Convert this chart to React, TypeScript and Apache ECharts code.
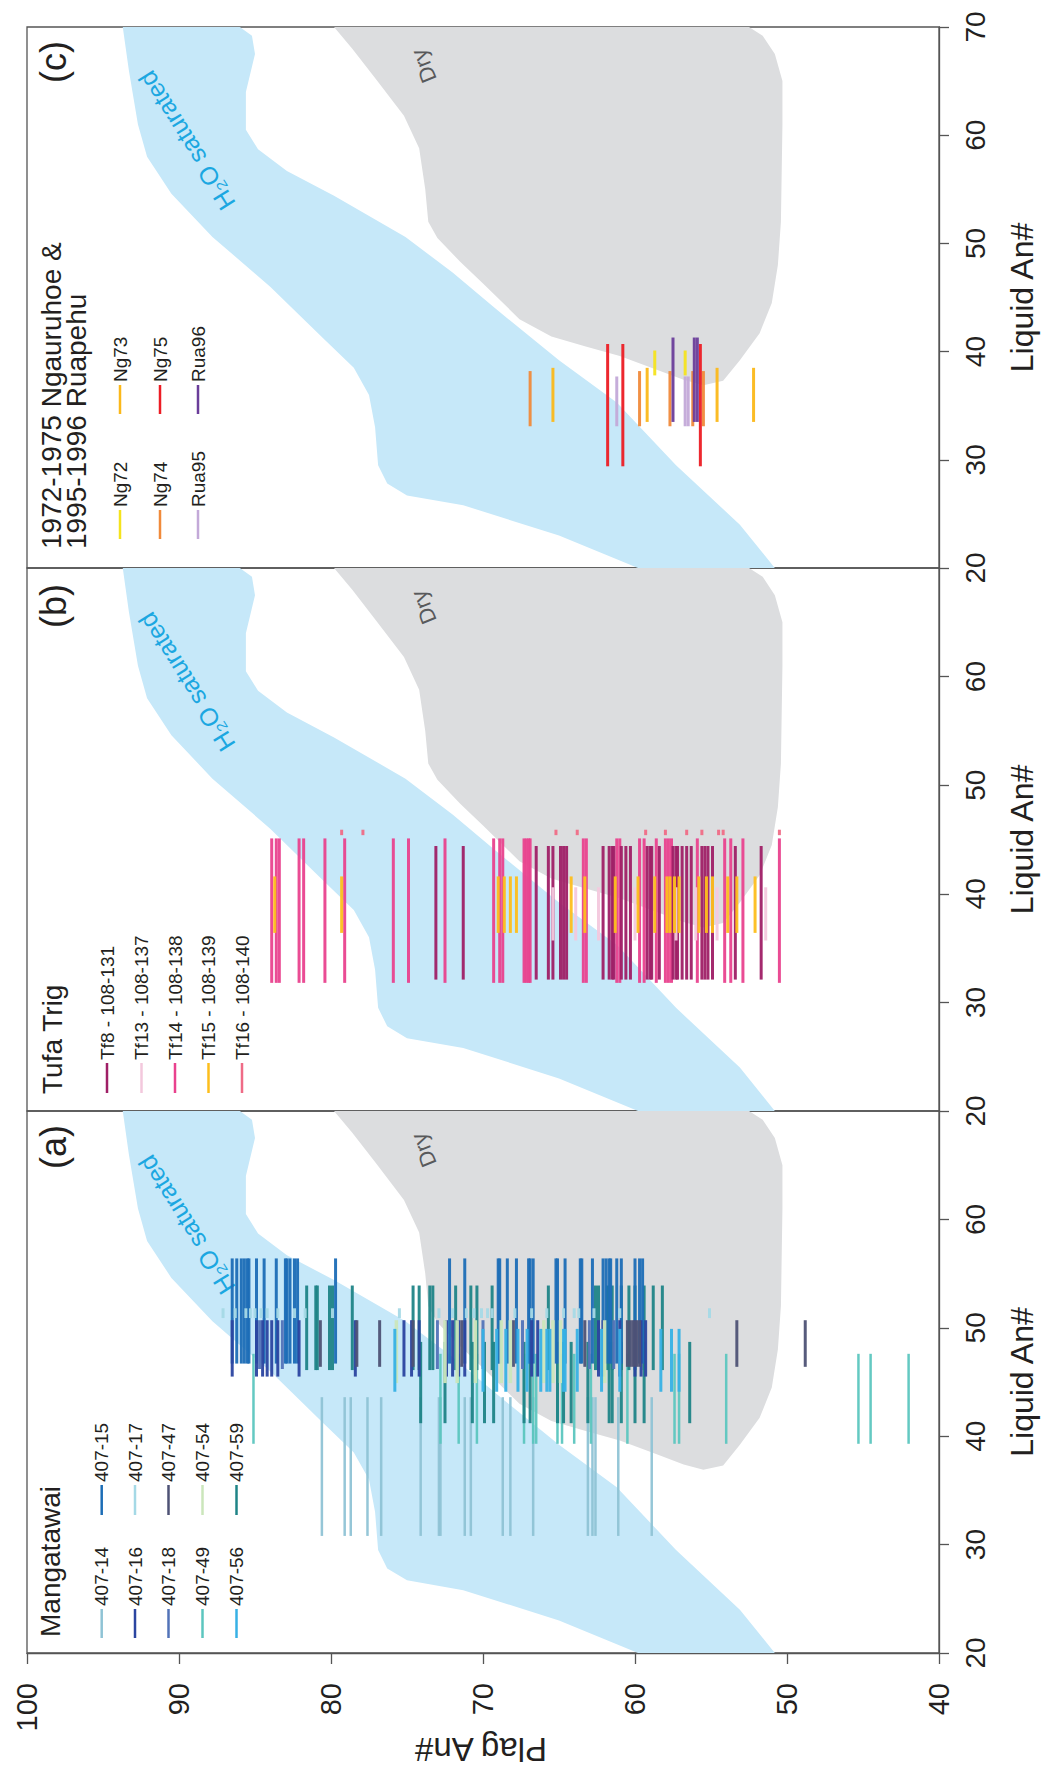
import React, { useEffect, useRef } from "react";
import * as echarts from "echarts";

const FONT = '"Liberation Sans", Arial, Helvetica, sans-serif';
const INK = "#231f20";

// ---------- axes ----------
const PLAG_MIN = 40;
const PLAG_MAX = 100;
const PLAG_STEP = 10;
const LIQ_MIN = 20;
const LIQ_MAX = 70;
const LIQ_STEP = 10;

// ---------- model fields, [Plag An#, Liquid An#] ----------
const h2oSaturatedBand: number[][] = [
  [93.7, 70], [93.3, 66], [92.7, 61], [92.1, 58], [90.5, 54.6], [87.8, 50.6], [84.0, 46.0],
  [80.5, 41.2], [78.5, 38.5], [77.5, 36], [77.1, 33], [76.9, 29.5], [76.3, 27.8], [75.0, 26.7],
  [71.3, 25.8], [65.0, 23.0], [59.8, 20],
  [50.8, 20], [53.1, 24], [57.3, 29.5], [61.2, 35.3], [65.0, 39.2], [69.2, 44.0], [72.0, 47.3],
  [75.1, 50.6], [79.8, 54.4], [82.9, 56.7], [84.8, 58.7], [85.6, 60.5], [85.6, 64.0], [85.0, 67.5],
  [85.2, 69.2], [86.0, 70],
];
const dryField: number[][] = [
  [79.8, 70], [78.6, 68], [77.0, 65.1], [75.2, 61.8], [74.2, 58.8], [73.8, 55], [73.6, 52],
  [73.0, 50.5], [71.5, 48.3], [70.0, 46.3], [67.6, 43], [65.5, 41.4], [63.3, 40.5], [61.0, 39.6],
  [58.7, 38.4], [56.8, 37.4], [55.5, 36.9], [54.2, 37.3], [53.1, 39.2], [51.8, 41.7], [51.0, 44.5],
  [50.6, 48], [50.4, 52], [50.3, 61], [50.3, 65], [50.8, 67.5], [51.6, 69.2], [52.5, 70],
];
const h2oLabelAt = [89.5, 59.5];
const dryLabelAt = [73.9, 66.4];

// ---------- (a) Mangatawai: Plag An# of each crystal; Liquid An# range per group ----------
const p407_14 = [80.6, 79.1, 78.7, 77.6, 76.7, 74.1, 72.9, 72.8, 71.2, 70.8, 68.7, 68.2, 66.7, 63.1, 62.8, 62.6, 61.1, 58.9];
const r407_14 = [30.8, 43.6];
const p407_15 = [86.5, 86.2, 85.9, 85.7, 85.5, 85.4, 84.9, 84.4, 83.6, 83.0, 82.9, 82.7, 82.4, 82.2, 79.7, 72.2, 71.2, 69.0, 68.9, 68.4, 67.8, 67.0, 66.9, 66.7, 65.2, 65.1, 64.6, 63.6, 63.5, 62.8, 62.1, 61.9, 61.7, 61.6, 61.2, 60.9, 60.0, 59.7, 59.5];
const r407_15 = [46.7, 56.4];
const p407_16 = [86.5, 84.9, 84.5, 84.2, 83.9, 83.5, 82.1, 78.4, 75.2, 74.7, 74.2, 72.4, 72.0, 71.6, 71.2, 66.8, 66.4, 62.4, 62.1, 61.0, 60.0, 59.6, 59.3];
const r407_16 = [45.5, 50.7];
const p407_17 = [87.1, 86.3, 85.6, 85.3, 85.0, 84.6, 84.2, 83.5, 82.4, 81.7, 79.9, 75.5, 72.9, 72.0, 71.1, 70.6, 70.1, 69.7, 69.4, 67.9, 66.8, 65.8, 64.7, 64.0, 63.7, 62.7, 61.0, 55.1];
const r407_17 = [50.9, 51.8];
const p407_18 = [84.7, 83.2, 73.0, 70.0, 67.4, 63.0, 61.4];
const r407_18 = [46.2, 50.7];
const p407_47 = [80.7, 78.3, 76.8, 74.6, 71.4, 68.0, 63.3, 60.5, 60.3, 60.1, 59.9, 59.7, 53.3, 48.8];
const r407_47 = [46.4, 50.7];
const p407_49 = [85.1, 72.8, 71.6, 70.4, 67.3, 66.7, 66.5, 65.1, 64.8, 64.0, 62.9, 60.5, 57.4, 57.1, 54.0, 45.3, 44.5, 42.0];
const r407_49 = [39.3, 47.6];
const p407_54 = [75.7, 72.5, 71.7, 70.5, 68.8, 68.2, 66.0, 65.4, 64.9, 62.0];
const r407_54 = [44.9, 50.7];
const p407_56 = [75.8, 70.0, 69.1, 68.5, 67.7, 67.1, 66.2, 65.8, 65.6, 64.7, 64.6, 63.8, 62.2, 61.0, 58.3, 57.6, 57.1];
const r407_56 = [44.1, 49.9];
const p407_59a = [81.6, 81.0, 80.9, 80.1, 79.9, 78.6, 74.6, 74.2, 73.5, 73.3, 71.8, 70.8, 70.4, 69.4, 65.7, 62.6, 62.4, 61.8, 61.5, 60.9, 60.4, 60.0, 59.4, 58.8, 58.2];
const r407_59a = [46.1, 53.9];
const p407_59b = [74.1, 72.5, 70.7, 69.9, 69.3, 67.3, 66.9, 65.1, 64.7, 64.2, 63.1, 61.7, 61.5, 60.9, 60.0, 59.4, 56.4];
const r407_59b = [41.2, 48.7];

// ---------- (b) Tufa Trig ----------
const pTf8 = [73.1, 71.3, 66.5, 65.7, 65.4, 64.9, 64.7, 64.5, 62.1, 61.7, 61.5, 61.4, 60.9, 60.6, 60.3, 59.2, 59.0, 58.9, 58.4, 57.5, 57.3, 57.2, 56.9, 56.6, 56.3, 55.6, 55.4, 55.2, 54.9, 53.4, 51.7];
const rTf8 = [32.1, 44.4];
const pTf13 = [65.4, 63.9, 62.4, 60.0, 57.3, 56.0, 54.6, 51.4];
const rTf13 = [35.7, 40.6];
const pTf14 = [83.9, 83.6, 83.4, 82.1, 81.8, 80.4, 79.1, 75.9, 74.9, 72.5, 69.3, 68.9, 68.7, 67.3, 67.15, 67.0, 66.9, 63.4, 63.2, 61.2, 61.0, 59.7, 59.4, 58.6, 58.0, 57.8, 57.6, 55.9, 54.1, 53.7, 52.9, 50.5];
const rTf14 = [31.8, 45.1];
const pTf15 = [83.7, 79.3, 69.0, 68.6, 68.2, 67.8, 64.2, 63.3, 61.3, 59.8, 58.7, 57.9, 57.7, 57.4, 57.1, 55.8, 55.3, 54.9, 53.9, 53.3, 52.1];
const rTf15 = [36.4, 41.6];
const pTf16 = [79.3, 77.9, 65.2, 63.8, 59.3, 58.0, 56.6, 55.6, 54.5, 54.2, 50.5];
const rTf16 = [45.4, 45.9];

// ---------- (c) 1972-1975 Ngauruhoe & 1995-1996 Ruapehu ----------
const pNg72 = [58.7, 56.7];
const rNg72 = [37.8, 40.1];
const pNg73 = [65.4, 59.2, 54.6, 52.2];
const rNg73 = [33.5, 38.5];
const pNg74 = [66.9, 59.7, 57.7, 56.2, 55.5];
const rNg74 = [33.1, 38.2];
const pNg75 = [61.8, 60.8, 55.7];
const rNg75 = [29.4, 40.7];
const pRua95 = [61.2, 56.7, 56.5];
const rRua95 = [33.1, 37.7];
const pRua96 = [57.5, 56.1, 55.9];
const rRua96 = [33.5, 41.3];

type Group = { plag: number[]; range: number[] };
type Sample = { name: string; color: string; groups: Group[]; width: number };

const panelA: Sample[] = [
  { name: "407-14", color: "#8fc3d5", width: 2.5, groups: [{ plag: p407_14, range: r407_14 }] },
  { name: "407-49", color: "#5cc6bf", width: 2.5, groups: [{ plag: p407_49, range: r407_49 }] },
  { name: "407-59", color: "#1f8487", width: 3, groups: [{ plag: p407_59a, range: r407_59a }, { plag: p407_59b, range: r407_59b }] },
  { name: "407-15", color: "#1c6db6", width: 3, groups: [{ plag: p407_15, range: r407_15 }] },
  { name: "407-16", color: "#2b45a0", width: 3, groups: [{ plag: p407_16, range: r407_16 }] },
  { name: "407-18", color: "#5273b8", width: 3, groups: [{ plag: p407_18, range: r407_18 }] },
  { name: "407-47", color: "#4e5275", width: 3, groups: [{ plag: p407_47, range: r407_47 }] },
  { name: "407-54", color: "#cbe6bb", width: 3.5, groups: [{ plag: p407_54, range: r407_54 }] },
  { name: "407-56", color: "#37b1e5", width: 3, groups: [{ plag: p407_56, range: r407_56 }] },
  { name: "407-17", color: "#a5d9e6", width: 3, groups: [{ plag: p407_17, range: r407_17 }] },
];
const panelB: Sample[] = [
  { name: "Tf14 - 108-138", color: "#e9428e", width: 3, groups: [{ plag: pTf14, range: rTf14 }] },
  { name: "Tf8 - 108-131", color: "#9f1f66", width: 3, groups: [{ plag: pTf8, range: rTf8 }] },
  { name: "Tf13 - 108-137", color: "#f3c8dd", width: 3, groups: [{ plag: pTf13, range: rTf13 }] },
  { name: "Tf15 - 108-139", color: "#fdbe1c", width: 3, groups: [{ plag: pTf15, range: rTf15 }] },
  { name: "Tf16 - 108-140", color: "#ef6b86", width: 3, groups: [{ plag: pTf16, range: rTf16 }] },
];
const panelC: Sample[] = [
  { name: "Ng74", color: "#f08a3b", width: 3, groups: [{ plag: pNg74, range: rNg74 }] },
  { name: "Ng73", color: "#fbb81a", width: 3, groups: [{ plag: pNg73, range: rNg73 }] },
  { name: "Ng72", color: "#f4e31d", width: 3, groups: [{ plag: pNg72, range: rNg72 }] },
  { name: "Rua95", color: "#c3a9d8", width: 3, groups: [{ plag: pRua95, range: rRua95 }] },
  { name: "Ng75", color: "#ec1c24", width: 3, groups: [{ plag: pNg75, range: rNg75 }] },
  { name: "Rua96", color: "#6a3d9a", width: 3, groups: [{ plag: pRua96, range: rRua96 }] },
];

// ---------- layout (pixels) ----------
const GRID_LEFT = 27;
const GRID_WIDTH = 912;
const panels = [
  { key: "c", top: 27, height: 541, samples: panelC },
  { key: "b", top: 568, height: 543, samples: panelB },
  { key: "a", top: 1111, height: 542, samples: panelA },
];

const legendLayout = [
  // panel c
  { name: "Ng72", color: "#f4e31d", x: 120, y1: 510, y2: 539 },
  { name: "Ng74", color: "#f08a3b", x: 160, y1: 510, y2: 539 },
  { name: "Rua95", color: "#c3a9d8", x: 198, y1: 510, y2: 539 },
  { name: "Ng73", color: "#fbb81a", x: 120, y1: 385, y2: 414 },
  { name: "Ng75", color: "#ec1c24", x: 160, y1: 385, y2: 414 },
  { name: "Rua96", color: "#6a3d9a", x: 198, y1: 385, y2: 414 },
  // panel b
  { name: "Tf8 - 108-131", color: "#9f1f66", x: 107, y1: 1063, y2: 1093 },
  { name: "Tf13 - 108-137", color: "#f3c8dd", x: 141.5, y1: 1063, y2: 1093 },
  { name: "Tf14 - 108-138", color: "#e9428e", x: 175, y1: 1063, y2: 1093 },
  { name: "Tf15 - 108-139", color: "#fdbe1c", x: 208.5, y1: 1063, y2: 1093 },
  { name: "Tf16 - 108-140", color: "#ef6b86", x: 242, y1: 1063, y2: 1093 },
  // panel a
  { name: "407-14", color: "#8fc3d5", x: 101.7, y1: 1609, y2: 1638 },
  { name: "407-16", color: "#2b45a0", x: 135, y1: 1609, y2: 1638 },
  { name: "407-18", color: "#5273b8", x: 168.5, y1: 1609, y2: 1638 },
  { name: "407-49", color: "#5cc6bf", x: 202.5, y1: 1609, y2: 1638 },
  { name: "407-56", color: "#37b1e5", x: 236.5, y1: 1609, y2: 1638 },
  { name: "407-15", color: "#1c6db6", x: 101.7, y1: 1485, y2: 1515 },
  { name: "407-17", color: "#a5d9e6", x: 135, y1: 1485, y2: 1515 },
  { name: "407-47", color: "#4e5275", x: 168.5, y1: 1485, y2: 1515 },
  { name: "407-54", color: "#cbe6bb", x: 202.5, y1: 1485, y2: 1515 },
  { name: "407-59", color: "#1f8487", x: 236.5, y1: 1485, y2: 1515 },
];

const titleLayout = [
  { text: "(c)", x: 53, y: 62, size: 36, align: "center" },
  { text: "(b)", x: 53, y: 606, size: 36, align: "center" },
  { text: "(a)", x: 53, y: 1147, size: 36, align: "center" },
  { text: "1972-1975 Ngauruhoe &", x: 51, y: 549, size: 28, align: "left" },
  { text: "1995-1996 Ruapehu", x: 76, y: 549, size: 28, align: "left" },
  { text: "Tufa Trig", x: 52, y: 1094, size: 28, align: "left" },
  { text: "Mangatawai", x: 50, y: 1637, size: 28, align: "left" },
];

function textEl(text: string, x: number, y: number, size: number, rotation: number, align: string, fill = INK) {
  return {
    type: "text",
    x,
    y,
    rotation,
    silent: true,
    z: 50,
    style: {
      text,
      fill,
      fontSize: size,
      fontFamily: FONT,
      textAlign: align,
      align,
      textVerticalAlign: "middle",
      verticalAlign: "middle",
    },
  };
}

function regionSeries(gridIndex: number, poly: number[][], fill: string, label: string, labelAt: number[], labelColor: string, rotation: number, size: number) {
  return {
    type: "custom",
    xAxisIndex: gridIndex,
    yAxisIndex: gridIndex,
    silent: true,
    clip: true,
    z: 1,
    data: [labelAt],
    renderItem: (_params: any, api: any) => {
      const pts = poly.map((p) => api.coord(p));
      const c = api.coord([api.value(0), api.value(1)]);
      return {
        type: "group",
        children: [
          { type: "polygon", shape: { points: pts }, style: { fill, stroke: null } },
          {
            type: "text",
            x: c[0],
            y: c[1],
            rotation,
            style: {
              text: label,
              fill: labelColor,
              fontSize: size,
              fontFamily: FONT,
              textAlign: "center",
              align: "center",
              textVerticalAlign: "middle",
              verticalAlign: "middle",
            },
          },
        ],
      };
    },
  };
}

function markSeries(gridIndex: number, s: Sample, g: Group) {
  const color = s.color;
  const width = s.width;
  return {
    type: "custom",
    name: s.name,
    xAxisIndex: gridIndex,
    yAxisIndex: gridIndex,
    silent: true,
    clip: true,
    z: 3,
    encode: { x: 0, y: [1, 2] },
    data: g.plag.map((p) => [p, g.range[0], g.range[1]]),
    renderItem: (_params: any, api: any) => {
      const a = api.coord([api.value(0), api.value(1)]);
      const b = api.coord([api.value(0), api.value(2)]);
      return {
        type: "line",
        shape: { x1: a[0], y1: a[1], x2: b[0], y2: b[1] },
        style: { stroke: color, lineWidth: width, lineCap: "butt", opacity: 0.95 },
      };
    },
  };
}

export default function App() {
  const ref = useRef<HTMLDivElement>(null);

  useEffect(() => {
    if (!ref.current) return;
    const chart = echarts.init(ref.current, undefined, { renderer: "svg" });

    const grid = panels.map((p) => ({
      left: GRID_LEFT,
      width: GRID_WIDTH,
      top: p.top,
      height: p.height,
      show: true,
      borderColor: "#555",
      borderWidth: 1.3,
      backgroundColor: "transparent",
    }));

    const xAxis = panels.map((p, i) => ({
      gridIndex: i,
      type: "value",
      min: PLAG_MIN,
      max: PLAG_MAX,
      interval: PLAG_STEP,
      inverse: true,
      position: "bottom",
      show: p.key === "a",
      splitLine: { show: false },
      axisLine: { show: true, onZero: false, lineStyle: { color: "#555", width: 1.3 } },
      axisTick: { show: true, length: 11, lineStyle: { color: "#555", width: 1.3 } },
      axisLabel: { rotate: 90, margin: 30, fontSize: 29, color: INK, fontFamily: FONT },
    }));

    const yAxis = panels.map((p, i) => ({
      gridIndex: i,
      type: "value",
      min: LIQ_MIN,
      max: LIQ_MAX,
      interval: LIQ_STEP,
      position: "right",
      splitLine: { show: false },
      axisLine: { show: true, onZero: false, lineStyle: { color: "#555", width: 1.3 } },
      axisTick: { show: true, length: 10, lineStyle: { color: "#555", width: 1.3 } },
      axisLabel: {
        rotate: 90,
        margin: 22,
        fontSize: 28,
        color: INK,
        fontFamily: FONT,
        showMaxLabel: p.key === "c",
      },
    }));

    const series: any[] = [];
    panels.forEach((p, i) => {
      series.push(regionSeries(i, h2oSaturatedBand, "#c6e8f9", "H\u2082O saturated", h2oLabelAt, "#1ba7e1", 2.13, 25));
      series.push(regionSeries(i, dryField, "#dcdddf", "Dry", dryLabelAt, "#58595b", 1.95, 22));
      p.samples.forEach((s) => s.groups.forEach((g) => series.push(markSeries(i, s, g))));
    });

    const graphic: any[] = [];
    legendLayout.forEach((l) => {
      graphic.push({
        type: "line",
        silent: true,
        z: 50,
        shape: { x1: l.x, y1: l.y1, x2: l.x, y2: l.y2 },
        style: { stroke: l.color, lineWidth: 2.5 },
      });
      graphic.push(textEl(l.name, l.x, l.y1 - 3, 19, Math.PI / 2, "left"));
    });
    titleLayout.forEach((t) => graphic.push(textEl(t.text, t.x, t.y, t.size, Math.PI / 2, t.align)));
    panels.forEach((p) => graphic.push(textEl("Liquid An#", 1022, p.top + p.height / 2, 32, Math.PI / 2, "center")));
    graphic.push(textEl("Plag An#", 481, 1749, 33, Math.PI, "center"));

    chart.setOption({
      animation: false,
      backgroundColor: "#ffffff",
      grid,
      xAxis,
      yAxis,
      series,
      graphic,
    });

    return () => chart.dispose();
  }, []);

  return (
    <div
      ref={ref}
      style={{ position: "absolute", left: 0, top: 0, width: 1048, height: 1776, background: "#fff" }}
    />
  );
}
